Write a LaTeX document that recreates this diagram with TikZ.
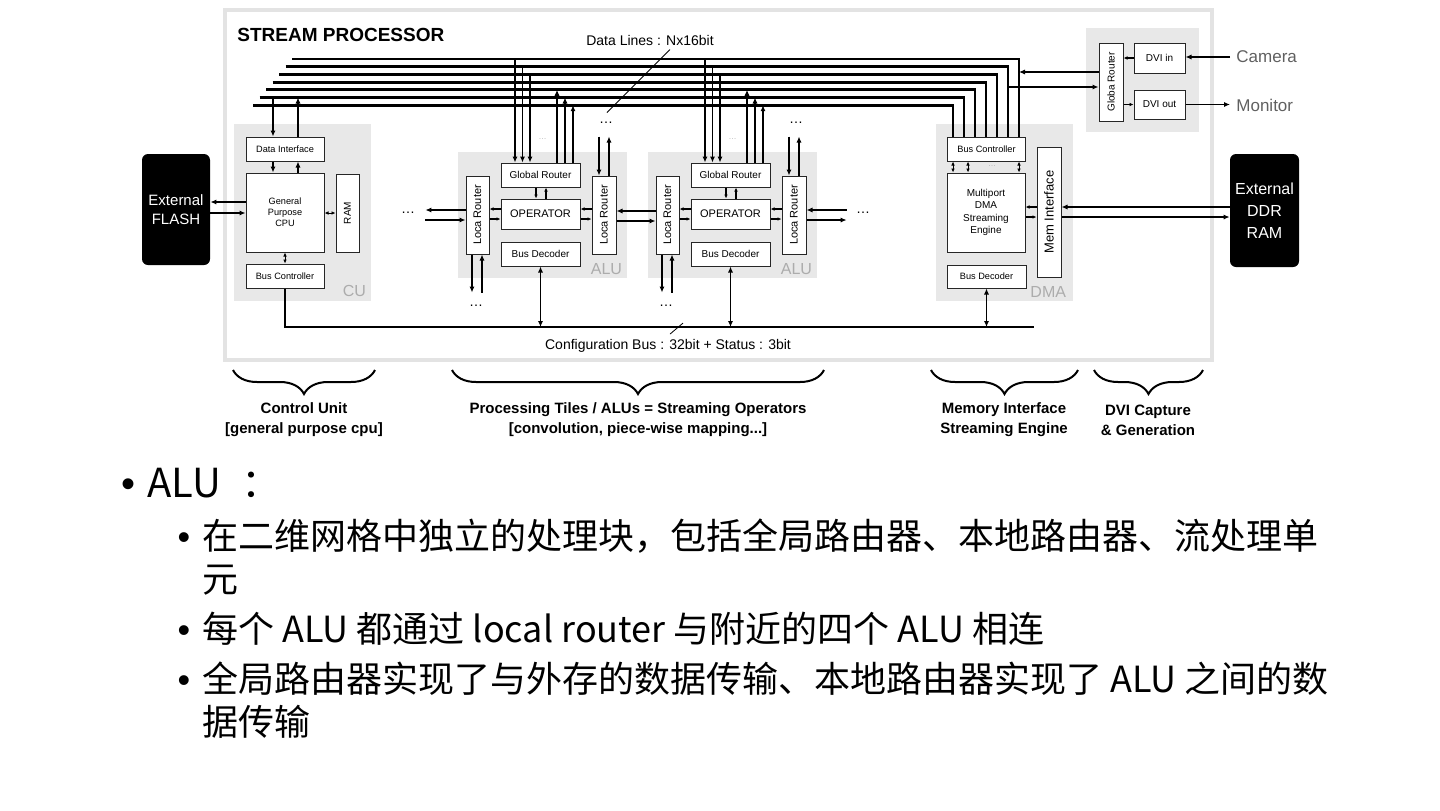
\documentclass[tikz,border=0pt]{standalone}
\usepackage{fontspec}
\usepackage{graphicx}
\setmainfont{Liberation Sans}
\newfontfamily\cjk{Noto Sans CJK SC}
\usetikzlibrary{arrows.meta,calc,decorations.pathreplacing}

\tikzset{
  sz/.style 2 args={minimum width=#1*0.5pt, minimum height=#2*0.5pt},
  box/.style={draw=black!85, fill=white, line width=0.5pt, inner sep=0pt, align=center, font=\fontsize{4.6}{5.4}\selectfont},
  panel/.style={fill=gray!18, inner sep=0pt},
  tag/.style={text=gray!65, font=\fontsize{8}{8}\selectfont, inner sep=0pt},
  ext/.style={fill=black, rounded corners=3pt, text=white, align=center, inner sep=0pt, font=\fontsize{7.5}{9.5}\selectfont},
  bus/.style={line width=1.4pt},
  arr/.style={line width=0.9pt, -{Latex[length=3pt,width=2.6pt]}},
  dbl/.style={line width=0.9pt, {Latex[length=3pt,width=2.6pt]}-{Latex[length=3pt,width=2.6pt]}},
  tarr/.style={line width=0.55pt, -{Latex[length=2pt,width=1.8pt]}},
  tdbl/.style={line width=0.45pt, {Latex[length=2pt,width=1.8pt]}-{Latex[length=2pt,width=1.8pt]}},
  ellip/.style={font=\fontsize{7}{7}\selectfont, inner sep=0pt},
  faint/.style={text=gray!60, font=\fontsize{4}{4}\selectfont, inner sep=0pt},
  note/.style={font=\fontsize{7}{8}\selectfont, inner sep=0pt},
  brl/.style={align=center, font=\bfseries\fontsize{7.5}{10}\selectfont, inner sep=0pt},
  dotbig/.style={font=\fontsize{20}{24}\selectfont, inner sep=0pt},
  dotsub/.style={font=\fontsize{18}{21.5}\selectfont, inner sep=0pt},
  cjkbig/.style={font=\cjk\fontsize{20}{24}\selectfont, inner sep=0pt},
  cjksub/.style={font=\cjk\fontsize{18}{21.5}\selectfont, inner sep=0pt}
}

\begin{document}
\begin{tikzpicture}[x=0.5pt,y=-0.5pt]
\useasboundingbox (0,0) rectangle (1440,810);

% frame
\node[draw=gray!22, line width=2pt, fill=white, sz={987}{350}, inner sep=0pt] (sp) at (718.5,185) {};
\node[anchor=west, inner sep=0pt, font=\bfseries\fontsize{9.5}{10}\selectfont] (title) at (237,35) {STREAM PROCESSOR};

% control unit
\node[panel,sz={137}{177}] (cu) at (302.5,212.5) {};
\node[tag,anchor=south east] at ($(cu.south east)+(-5,-4)$) {CU};
\node[box,sz={78}{24}] (di) at (285,149) {Data Interface};
\node[box,sz={78}{79}] (cpu) at (285,212.5) {General\\Purpose\\CPU};
\node[box,sz={23}{78},font=\fontsize{5}{5}\selectfont] (ram) at (347.5,213) {\rotatebox{90}{RAM}};
\node[box,sz={78}{24}] (cbc) at (285,276) {Bus Controller};
\node[ext,sz={68}{111}] (flash) at (176,209.5) {External\\FLASH};

% dma
\node[panel,sz={137}{177}] (dma) at (1004.5,212.5) {};
\node[tag,anchor=south east] at ($(dma.south east)+(-7,-4)$) {DMA};
\node[box,sz={78}{24}] (dbc) at (986.5,149) {Bus Controller};
\node[box,sz={78}{79},font=\fontsize{5}{6.3}\selectfont] (eng) at (986,212.5) {Multiport\\DMA\\Streaming\\Engine};
\node[box,sz={24}{130},font=\fontsize{6.5}{6.5}\selectfont] (mem) at (1049,212) {\rotatebox{90}{Mem Interface}};
\node[box,sz={79}{23}] (dbd) at (986.5,276.5) {Bus Decoder};
\node[ext,sz={69}{113},font=\fontsize{8}{11}\selectfont] (ddr) at (1264.5,210.5) {External\\DDR\\RAM};

% dvi
\node[panel,sz={113}{104}] (dvi) at (1142.5,80) {};
\node[box,sz={24}{78},font=\fontsize{5}{5}\selectfont] (dgr) at (1111,82) {\rotatebox{90}{Globa Router}};
\node[box,sz={51}{30},font=\fontsize{5}{5}\selectfont] (dvin) at (1159.5,58) {DVI in};
\node[box,sz={51}{29},font=\fontsize{5}{5}\selectfont] (dvout) at (1159.5,104.5) {DVI out};
\node[anchor=west, inner sep=0pt, text=gray!75!black, font=\fontsize{8.5}{9}\selectfont] (cam) at (1236,57) {Camera};
\node[anchor=west, inner sep=0pt, text=gray!75!black, font=\fontsize{8.5}{9}\selectfont] (mon) at (1236,105) {Monitor};

% data lines
\foreach \i in {0,...,6} {
  \coordinate (dl\i) at ({292-6.5*\i},{59+7.7*\i});
  \coordinate (dr\i) at ($(dbc.north)+({32.5-11*\i},0)$);
  \draw[bus] (dl\i) -| (dr\i);
}
\node[note] (dll) at (650,40) {Data Lines : Nx16bit};
\draw[line width=0.4pt] ($(dll.south)+(20,4)$) -- ++(-63,63);

% config bus
\coordinate (cbe) at (1034,327);
\draw[bus] (cbc.south) |- (cbe);
\node[note] (cbl) at (668,346) {Configuration Bus : 32bit + Status : 3bit};
\draw[line width=0.4pt] ($(cbl.north)+(2,-5)$) -- ++(13,-11);

% alu tiles
\foreach \k/\dx in {1/0,2/190} {
  \node[panel,sz={169}{126}] (alu\k) at (542.5+\dx,215) {};
  \node[tag,anchor=south east] at ($(alu\k.south east)+(-5,-3)$) {ALU};
  \node[box,sz={23}{78},font=\fontsize{5.5}{5.5}\selectfont] (lla\k) at (477.5+\dx,215) {\rotatebox{90}{Loca Router}};
  \node[box,sz={24}{78},font=\fontsize{5.5}{5.5}\selectfont] (llb\k) at (604+\dx,215) {\rotatebox{90}{Loca Router}};
  \node[box,sz={79}{24},font=\fontsize{5}{5}\selectfont] (gr\k) at (540.5+\dx,175) {Global Router};
  \node[box,sz={79}{30},font=\fontsize{5.5}{5.5}\selectfont] (op\k) at (540.5+\dx,214) {OPERATOR};
  \node[box,sz={79}{24},font=\fontsize{5}{5}\selectfont] (bd\k) at (540.5+\dx,254) {Bus Decoder};
  % global router and data lines
  \foreach \i/\o in {0/-25.5,1/-18,2/-10.5} {
    \coordinate (p) at ($(gr\k.north)+(\o,0)$);
    \draw[arr] (p |- dl\i) -- (p);
  }
  \foreach \i/\o in {4/16.5,5/24.5,6/32.5} {
    \coordinate (p) at ($(gr\k.north)+(\o,0)$);
    \draw[arr] (p) -- (p |- dl\i);
  }
  \node[faint] at ($(gr\k.north)+(2,-23)$) {\dots};
  \draw[tarr] ($(gr\k.south)+(-4.5,0)$) -- ($(op\k.north)+(-4.5,0)$);
  \draw[tarr] ($(op\k.north)+(5.5,0)$) -- ($(gr\k.south)+(5.5,0)$);
  % operator and local routers
  \coordinate (p) at ($(op\k.west)+(0,-5)$);
  \draw[tarr] (p) -- (p -| lla\k.east);
  \coordinate (p) at ($(op\k.west)+(0,5)$);
  \draw[tarr] (p -| lla\k.east) -- (p);
  \coordinate (p) at ($(op\k.east)+(0,-5)$);
  \draw[tarr] (p -| llb\k.west) -- (p);
  \coordinate (p) at ($(op\k.east)+(0,5)$);
  \draw[tarr] (p) -- (p -| llb\k.west);
  % neighbours above and below
  \node[ellip] (td\k) at ($(llb\k.north)+(2,-53)$) {\dots};
  \draw[arr] ($(llb\k.north)+(-5,-39)$) -- ($(llb\k.north)+(-5,0)$);
  \draw[arr] ($(llb\k.north)+(5,0)$) -- ($(llb\k.north)+(5,-39)$);
  \node[ellip] (ld\k) at ($(lla\k.south)+(-1.5,51)$) {\dots};
  \draw[arr] ($(lla\k.south)+(-5.5,0)$) -- ($(lla\k.south)+(-5.5,38)$);
  \draw[arr] ($(lla\k.south)+(4.5,38)$) -- ($(lla\k.south)+(4.5,0)$);
  % bus decoder
  \draw[dbl] (bd\k.south) -- (bd\k.south |- cbe);
}

% between tiles
\coordinate (p) at ($(lla2.west)+(0,-4)$);
\draw[arr] (p) -- (p -| llb1.east);
\coordinate (p) at ($(llb1.east)+(0,6)$);
\draw[arr] (p) -- (p -| lla2.west);
\node[ellip] (ldots) at (408,213) {\dots};
\coordinate (le) at ($(ldots.east)+(10,0)$);
\coordinate (p) at ($(lla1.west)+(0,-5)$);
\draw[arr] (p) -- (p -| le);
\coordinate (p) at ($(lla1.west)+(0,5)$);
\draw[arr] (p -| le) -- (p);
\node[ellip] (rdots) at (863,213) {\dots};
\coordinate (re) at ($(rdots.west)+(-9,0)$);
\coordinate (p) at ($(llb2.east)+(0,-5)$);
\draw[arr] (p -| re) -- (p);
\coordinate (p) at ($(llb2.east)+(0,5)$);
\draw[arr] (p) -- (p -| re);

% control unit links
\coordinate (p) at ($(di.north)+(-12,0)$);
\draw[arr] (p |- dl5) -- (p);
\coordinate (p) at ($(di.north)+(13,0)$);
\draw[arr] (p) -- (p |- dl5);
\draw[arr] ($(di.south)+(-12,0)$) -- ($(cpu.north)+(-12,0)$);
\draw[arr] ($(cpu.north)+(13,0)$) -- ($(di.south)+(13,0)$);
\coordinate (p) at ($(cpu.west)+(0,-10.5)$);
\draw[arr] (p) -- (p -| flash.east);
\coordinate (p) at ($(cpu.west)+(0,0.5)$);
\draw[arr] (p -| flash.east) -- (p);
\draw[tdbl] (cpu.east |- ram.center) -- (ram.west);
\draw[tdbl] (cpu.south) -- (cbc.north);

% dma links
\foreach \o in {-33.5,-18.5,32.5}
  \draw[tdbl] ($(dbc.south)+(\o,0)$) -- ($(eng.north)+(\o+0.5,0)$);
\node[faint] at ($(dbc.south)+(5.5,5)$) {\dots};
\coordinate (p) at ($(mem.west)+(0,-5)$);
\draw[tarr] (p) -- (p -| eng.east);
\coordinate (p) at ($(mem.west)+(0,5)$);
\draw[tarr] (p -| eng.east) -- (p);
\coordinate (p) at ($(mem.east)+(0,-5)$);
\draw[arr] (p -| ddr.west) -- (p);
\coordinate (p) at ($(mem.east)+(0,5)$);
\draw[arr] (p) -- (p -| ddr.west);
\draw[dbl] (dbd.south) -- (dbd.south |- cbe);

% dvi links
\coordinate (p) at ($(dgr.west)+(0,-10)$);
\draw[arr] (p) -- (p -| dr0);
\coordinate (p) at ($(dgr.west)+(0,5)$);
\draw[arr] (p -| dr1) -- (p);
\draw[tarr] (dvin.west) -- (dvin.west -| dgr.east);
\draw[tarr] (dvout.west -| dgr.east) -- (dvout.west);
\draw[arr, line width=0.7pt, shorten <=3pt] (cam.west) -- (cam.west -| dvin.east);
\draw[arr, line width=0.7pt, shorten >=3pt] (dvout.east) -- (dvout.east -| mon.west);

% braces
\foreach \a/\b in {233/375,452/824,931/1078,1094/1203}
  \draw[line width=1pt, decorate, decoration={brace, mirror, amplitude=12pt}] (\a,370) -- (\b,370);
\node[brl] (bcu) at (304,420) {Control Unit\\{[general purpose cpu]}};
\node[brl] (bpt) at (638,420) {Processing Tiles / ALUs = Streaming Operators\\{[convolution, piece-wise mapping...]}};
\node[brl] (bmi) at (1004,420) {Memory Interface\\Streaming Engine};
\node[brl] (bdv) at (1148,420) {DVI Capture\\\& Generation};

% bullet text
\node[dotbig, anchor=base] (hb) at (129,497) {•};
\node[cjkbig, anchor=base west] (h) at (147,497) {ALU\hspace{10pt}：};
\node[dotsub, anchor=base] (b1) at (184,549) {•};
\node[cjksub, anchor=base west] (s1) at (202,549) {在二维网格中独立的处理块，包括全局路由器、本地路由器、流处理单};
\node[cjksub, anchor=base west] (s1b) at (202,592) {元};
\node[dotsub, anchor=base] (b2) at (184,642) {•};
\node[cjksub, anchor=base west] (s2) at (202,642) {每个 ALU 都通过 local router 与附近的四个 ALU 相连};
\node[dotsub, anchor=base] (b3) at (184,692) {•};
\node[cjksub, anchor=base west] (s3) at (202,692) {全局路由器实现了与外存的数据传输、本地路由器实现了 ALU 之间的数};
\node[cjksub, anchor=base west] (s3b) at (202,735) {据传输};
\end{tikzpicture}
\end{document}
